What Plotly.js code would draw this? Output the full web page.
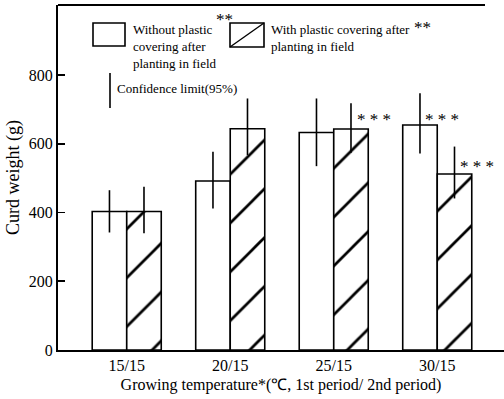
<!DOCTYPE html>
<html>
<head>
<meta charset="utf-8">
<script src="https://cdn.plot.ly/plotly-3.0.1.min.js"></script>
<style>html,body{margin:0;padding:0;background:#fff;}#chart{width:504px;height:399px;}</style>
</head>
<body>
<div id="chart"></div>
<script>
// ---- data ----
var categories = ['15/15', '20/15', '25/15', '30/15'];
var withoutCover = [403, 492, 633, 655];
var withCover = [403, 644, 643, 512];
var withoutPlus = [62, 85, 99, 92];
var withoutMinus = [61, 80, 98, 83];
var withPlus = [72, 88, 75, 80];
var withMinus = [63, 77, 69, 71];
var yTicks = [0, 200, 400, 600, 800];

var FONT = 'Liberation Serif, Times New Roman, serif';

// plot area in pixels: x 58..504, y 5..350
function px(x) { return (x - 58) / 446; }
function py(y) { return (350 - y) / 345; }

var traces = [
  {
    type: 'bar', x: categories, y: withoutCover, name: 'Without plastic covering after planting in field',
    marker: {color: '#fff', line: {color: '#000', width: 1.6}},
    error_y: {type: 'data', symmetric: false, array: withoutPlus, arrayminus: withoutMinus,
              width: 0, thickness: 1.6, color: '#000'}
  },
  {
    type: 'bar', x: categories, y: withCover, name: 'With plastic covering after planting in field',
    marker: {color: '#fff', line: {color: '#000', width: 1.6},
             pattern: {shape: '/', size: 34.5, solidity: 0.08, fgcolor: '#000', bgcolor: '#fff'}},
    error_y: {type: 'data', symmetric: false, array: withPlus, arrayminus: withMinus,
              width: 0, thickness: 1.6, color: '#000'}
  }
];

function txt(x, y, t, size, xanchor, yanchor) {
  return {xref: 'paper', yref: 'paper', x: px(x), y: py(y), text: t, showarrow: false,
          xanchor: xanchor || 'left', yanchor: yanchor || 'middle', align: 'left',
          font: {family: FONT, size: size || 13, color: '#000'}};
}

var annotations = [
  txt(131, 20, 'Without plastic<br>covering after<br>planting in field', 13, 'left', 'top'),
  txt(224, 20, '**', 17, 'center'),
  txt(269, 20, 'With plastic covering after<br>planting in field', 13, 'left', 'top'),
  txt(422, 27, '**', 17, 'center'),
  txt(115, 88, 'Confidence limit(95%)', 13),
  txt(374, 119, '* * *', 17, 'center'),
  txt(442, 119, '* * *', 17, 'center'),
  txt(477, 166, '* * *', 17, 'center')
];

var shapes = [
  // top frame line
  {type: 'line', xref: 'paper', yref: 'paper', x0: 0, x1: px(485), y0: 1, y1: 1, line: {color: '#000', width: 2}},
  // legend box 1 (plain)
  {type: 'rect', xref: 'paper', yref: 'paper', x0: px(93), x1: px(125), y0: py(46), y1: py(23), line: {color: '#000', width: 1.6}, fillcolor: '#fff'},
  // legend box 2 (hatched)
  {type: 'rect', xref: 'paper', yref: 'paper', x0: px(230), x1: px(264), y0: py(47), y1: py(23), line: {color: '#000', width: 1.6}, fillcolor: '#fff'},
  {type: 'line', xref: 'paper', yref: 'paper', x0: px(230), x1: px(264), y0: py(47), y1: py(23), line: {color: '#000', width: 1.4}},
  // confidence limit key
  {type: 'line', xref: 'paper', yref: 'paper', x0: px(110), x1: px(110), y0: py(108), y1: py(73), line: {color: '#000', width: 1.6}}
];

var layout = {
  width: 504, height: 399,
  margin: {l: 58, r: 0, t: 5, b: 49},
  paper_bgcolor: '#fff', plot_bgcolor: '#fff',
  showlegend: false,
  barmode: 'group', bargap: 0.333, bargroupgap: 0,
  font: {family: FONT, color: '#000'},
  xaxis: {
    range: [-0.664, 3.645], showline: true, linecolor: '#000', linewidth: 2,
    ticks: '', showgrid: false, zeroline: false,
    tickfont: {family: FONT, size: 16, color: '#000'},
    title: {text: 'Growing temperature*(℃, 1st period/ 2nd period)', font: {family: FONT, size: 16, color: '#000'}, standoff: 6}
  },
  yaxis: {
    range: [0, 1004], showline: true, linecolor: '#000', linewidth: 2,
    ticks: 'inside', ticklen: 7, tickwidth: 1.6, tickcolor: '#000',
    tickvals: yTicks, ticktext: yTicks.map(String),
    showgrid: false, zeroline: false,
    tickfont: {family: FONT, size: 16, color: '#000'},
    title: {text: 'Curd weight (g)', font: {family: FONT, size: 18, color: '#000'}, standoff: 4}
  },
  annotations: annotations,
  shapes: shapes
};

Plotly.newPlot('chart', traces, layout, {displayModeBar: false, staticPlot: true});
</script>
</body>
</html>
